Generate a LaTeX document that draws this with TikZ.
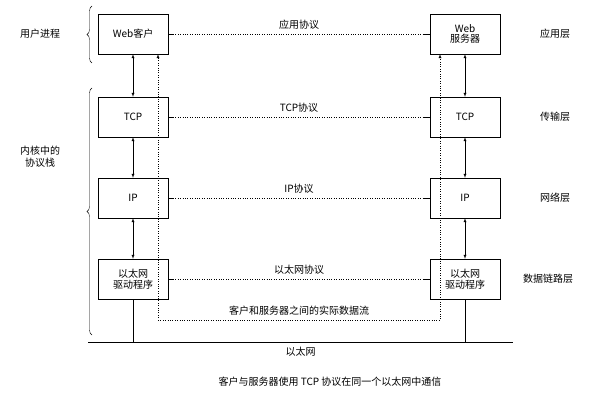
\documentclass[tikz,border=0pt]{standalone}
\usepackage{fontspec}
\setmainfont{Noto Sans CJK SC}[BoldFont={Noto Sans CJK SC Bold}]
\usetikzlibrary{decorations.pathreplacing}
\begin{document}
\begin{tikzpicture}[x=1pt,y=-1pt,font=\normalsize,
  box/.style={draw,minimum width=70pt,minimum height=40pt,align=center,inner sep=1pt,font=\normalsize\linespread{0.9}\selectfont},
  proto/.style={dotted},
  brace/.style={decorate,decoration={brace,amplitude=5pt}}]
\useasboundingbox (0,0) rectangle (604,403);
% left stack
\node[box] (wc) at (133,34) {Web客户};
\node[box] (tl) at (133,117) {TCP};
\node[box] (il) at (133,198) {IP};
\node[box] (el) at (133,279) {以太网\\驱动程序};
% right stack
\node[box] (ws) at (465,34) {Web\\服务器};
\node[box] (tr) at (465,117) {TCP};
\node[box] (ir) at (465,198) {IP};
\node[box] (er) at (465,279) {以太网\\驱动程序};
\foreach \a/\b in {wc/tl,tl/il,il/el,ws/tr,tr/ir,ir/er}{
    \draw[<->,>=latex] (\a) -- (\b);
}
%protocols
\foreach \a/\b/\t in {wc/ws/应用协议,tl/tr/TCP协议,il/ir/IP协议,el/er/以太网协议}{
    \draw[proto] (\a.east) -- node[above=1pt]{\t} (\b.west);
    \draw (\a.east) -- ++(6,0);
    \draw (\b.west) -- ++(-6,0);
}
%ethernet
\coordinate (n1) at (88,342);
\coordinate (n2) at (513,342);
\draw[semithick] (n1) -- node[below=1pt]{以太网} (n2);
\draw (el.south) -- (el.south |- n1);
\draw (er.south) -- (er.south |- n1);
%data flow
\coordinate (f1) at (158,320);
\coordinate (f2) at (440,320);
\draw[proto,->,>=latex] (f1) -- node[above=1pt]{客户和服务器之间的实际数据流} (f2) -- (f2 |- ws.south);
\draw[proto,->,>=latex] (f1) -- (f1 |- wc.south);
%braces and layers
\draw[brace] (92,63) -- (92,6);
\draw[brace] (92,335) -- (92,88);
\node (up) at (40,34) {用户进程};
\node[align=center] (ks) at (40,157) {内核中的\\协议栈};
\node (l1) at (555,34) {应用层};
\node (l2) at (555,117) {传输层};
\node (l3) at (555,198) {网络层};
\node (l4) at (548,279) {数据链路层};
\node (cap) at (330,382) {客户与服务器使用 TCP 协议在同一个以太网中通信};
\end{tikzpicture}
\end{document}
